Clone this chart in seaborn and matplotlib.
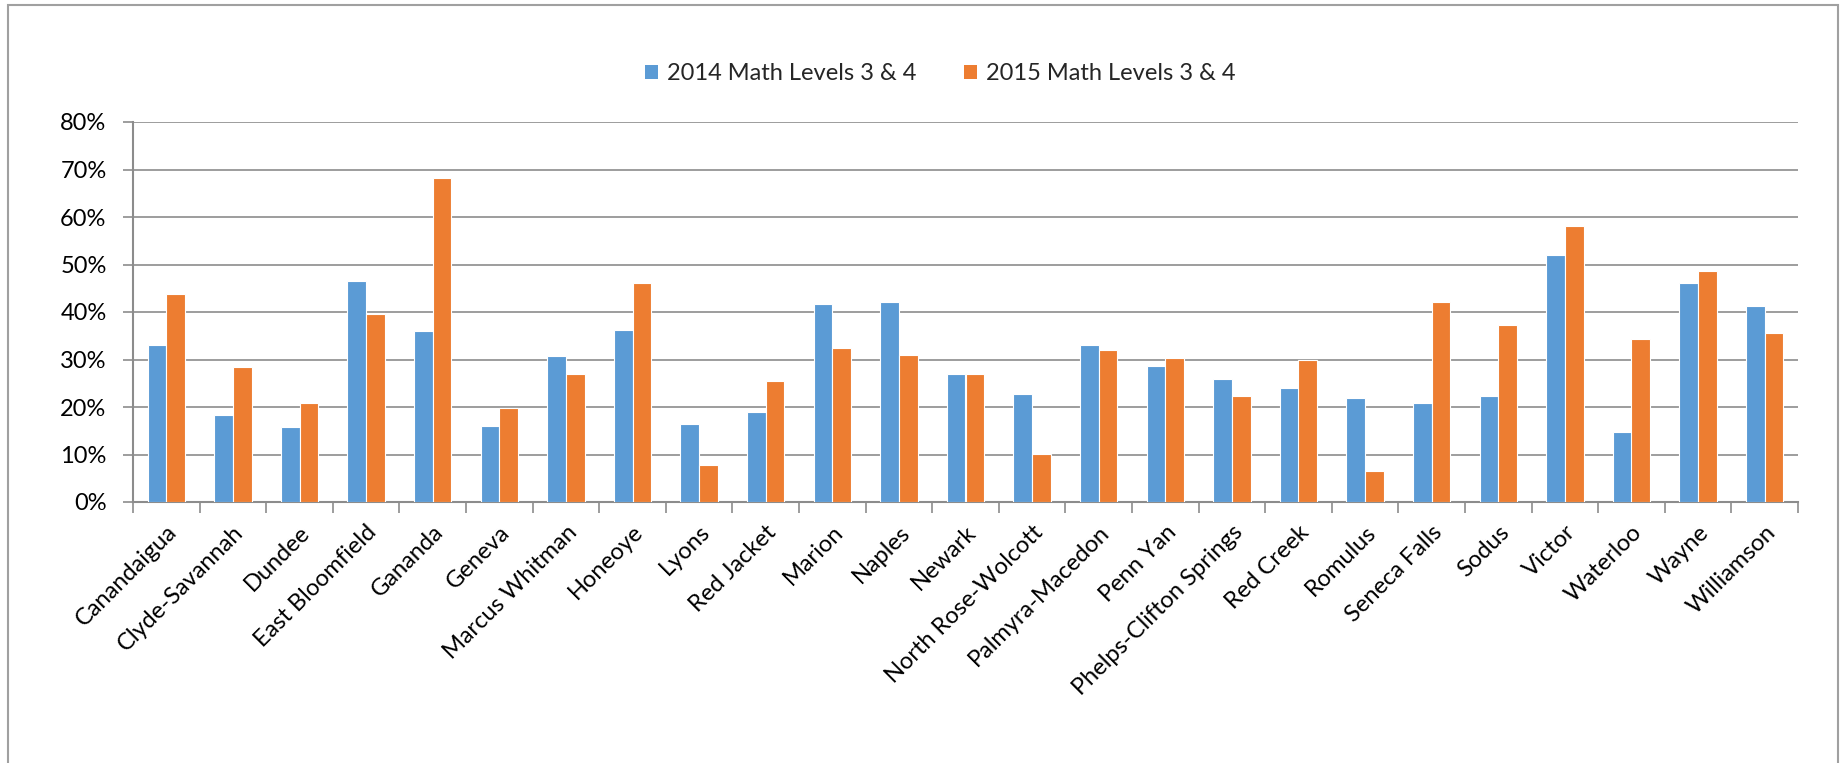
import matplotlib
matplotlib.use('Agg')
import matplotlib.pyplot as plt
import matplotlib.patches as mpatches
from matplotlib.ticker import FuncFormatter, FixedLocator
import numpy as np
import pandas as pd
import seaborn as sns

################################################################################

districts = [
    'Canandaigua', 'Clyde-Savannah', 'Dundee', 'East Bloomfield', 'Gananda',
    'Geneva', 'Marcus Whitman', 'Honeoye', 'Lyons', 'Red Jacket', 'Marion',
    'Naples', 'Newark', 'North Rose-Wolcott', 'Palmyra-Macedon', 'Penn Yan',
    'Phelps-Clifton Springs', 'Red Creek', 'Romulus', 'Seneca Falls', 'Sodus',
    'Victor', 'Waterloo', 'Wayne', 'Williamson',
]

math_2014 = [
    33.0, 18.4, 15.7, 46.5, 35.9, 16.1, 30.7, 36.2, 16.4, 18.9, 41.7, 42.1, 27.0,
    22.8, 33.0, 28.6, 25.8, 24.1, 21.8, 20.9, 22.4, 51.9, 14.8, 46.2, 41.3,
]

math_2015 = [
    43.7, 28.5, 20.9, 39.5, 68.2, 19.8, 26.9, 46.2, 7.7, 25.5, 32.5, 31.0, 26.9,
    10.1, 32.1, 30.4, 22.4, 30.0, 6.6, 42.2, 37.2, 58.1, 34.3, 48.6, 35.5,
]

series_names = ['2014 Math Levels 3 & 4', '2015 Math Levels 3 & 4']
series_colors = ['#5B9BD5', '#ED7D31']

################################################################################

df = pd.DataFrame({
    'district': districts * 2,
    'pct': math_2014 + math_2015,
    'series': [series_names[0]] * len(districts) + [series_names[1]] * len(districts),
})

sns.set_style('white')
plt.rcParams['font.family'] = ['Lato', 'DejaVu Sans']
plt.rcParams['font.size'] = 17

fig = plt.figure(figsize = (18.43, 7.63), dpi = 100)
ax = fig.add_axes([133 / 1843, 1 - 502 / 763, (1798 - 133) / 1843, (502 - 122) / 763])

sns.barplot(
    data = df,
    x = 'district',
    y = 'pct',
    hue = 'series',
    palette = series_colors,
    saturation = 1,
    width = 0.56,
    edgecolor = 'white',
    linewidth = 0.8,
    errorbar = None,
    legend = False,
    ax = ax,
    zorder = 3,
)

axis_grey = '#8c8c8c'

ax.set_ylim(0, 80)
ax.set_xlim(-0.5, len(districts) - 0.5)
ax.set_yticks(np.arange(0, 81, 10))
ax.yaxis.set_major_formatter(FuncFormatter(lambda v, _: f'{v:.0f}%'))
ax.yaxis.grid(True, color = axis_grey, linewidth = 1.2, zorder = 0)
ax.set_axisbelow(True)

for side in ['top', 'right']:
    ax.spines[side].set_visible(False)
for side in ['left', 'bottom']:
    ax.spines[side].set_color(axis_grey)
    ax.spines[side].set_linewidth(1.5)

ax.tick_params(axis = 'y', which = 'major', left = True, length = 7, width = 1.2,
               color = axis_grey, pad = 12, labelsize = 17, labelcolor = 'black')

# category boundary ticks on x axis
ax.xaxis.set_minor_locator(FixedLocator(np.arange(-0.5, len(districts), 1.0)))
ax.tick_params(axis = 'x', which = 'minor', bottom = True, length = 8, width = 1.2, color = axis_grey)
ax.tick_params(axis = 'x', which = 'major', bottom = False, length = 0, pad = 14)
ax.set_xticks(range(len(districts)))
ax.set_xticklabels(districts, rotation = 45, ha = 'right', rotation_mode = 'anchor',
                   fontsize = 17, color = 'black')

ax.set_xlabel('')
ax.set_ylabel('')

handles = [mpatches.Patch(facecolor = c, edgecolor = 'none', label = n)
           for c, n in zip(series_colors, series_names)]
fig.legend(
    handles = handles,
    loc = 'center',
    bbox_to_anchor = (940 / 1843, 1 - 74 / 763),
    ncol = 2,
    frameon = False,
    fontsize = 17,
    handlelength = 0.55,
    handleheight = 0.55,
    handletextpad = 0.4,
    columnspacing = 2.0,
)

# outer chart border
fig.patches.append(mpatches.Rectangle(
    (8 / 1843, -0.05), (1838 - 8) / 1843, 1.05 - 5 / 763,
    transform = fig.transFigure, fill = False, edgecolor = '#a0a0a0', linewidth = 1.5,
))

fig.savefig('out.png', dpi = 100, facecolor = 'white')
